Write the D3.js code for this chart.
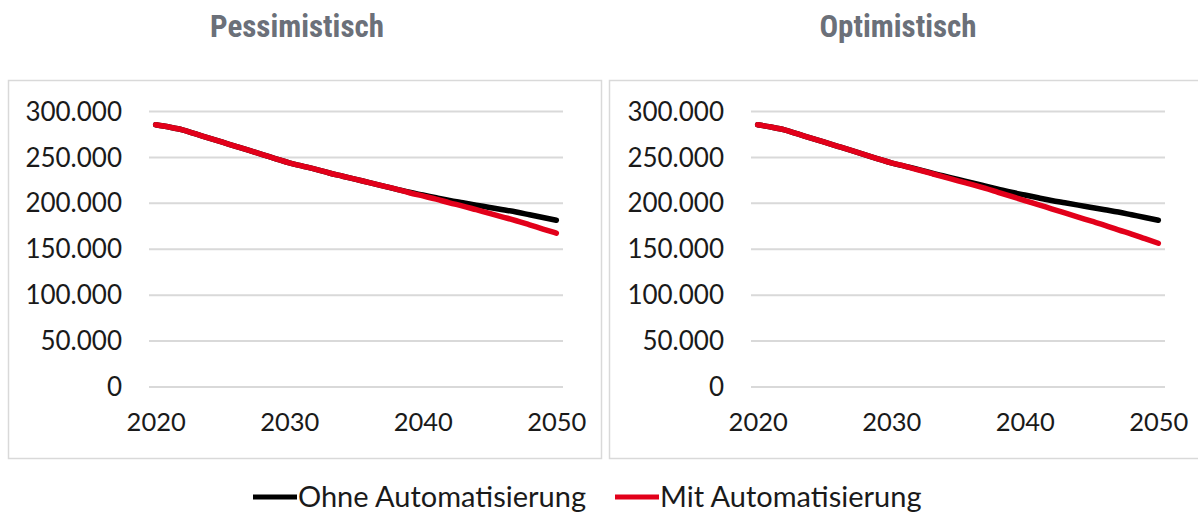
<!DOCTYPE html>
<html>
<head>
<meta charset="utf-8">
<script src="https://cdn.jsdelivr.net/npm/d3@7"></script>
<style>
  html, body { margin: 0; padding: 0; background: #ffffff; }
  svg { display: block; }
  .title { font-family: "Liberation Sans Narrow", "Roboto Condensed", Roboto, sans-serif; font-weight: 700; fill: #6b7079; }
  .tick text, .legend text { font-family: Lato, "Open Sans", sans-serif; fill: #1a1a1a; }
</style>
</head>
<body>
<svg id="chart" width="1198" height="515"></svg>
<script>
// Years on the category axis (one point per year)
const years = d3.range(2020, 2051);
const yearTicks = [2020, 2030, 2040, 2050];
const valueTicks = [0, 50000, 100000, 150000, 200000, 250000, 300000];

// Employment without automation (same in both scenarios)
const ohneAutomatisierung = [
  285000, 282500, 279500, 275000, 270500, 266000, 261500, 257000, 252500, 248000,
  243500, 240000, 236500, 232500, 229000, 225500, 222000, 218500, 215000, 211500,
  208500, 205500, 202500, 200000, 197500, 195000, 192500, 190000, 187000, 184000,
  181000
];

// Employment with automation, pessimistic scenario
const mitAutomatisierungPessimistisch = [
  285000, 282500, 279500, 275000, 270500, 266000, 261500, 257000, 252500, 248000,
  243500, 240000, 236500, 232500, 229000, 225500, 222000, 218500, 215000, 211000,
  207500, 204000, 200000, 196500, 192500, 188500, 184500, 180500, 176000, 171500,
  167000
];

// Employment with automation, optimistic scenario
const mitAutomatisierungOptimistisch = [
  285000, 282500, 279500, 275000, 270500, 266000, 261500, 257000, 252500, 248000,
  243500, 240000, 236000, 232000, 228000, 224000, 220000, 216000, 211500, 207000,
  202500, 198000, 193500, 189000, 184500, 180000, 175500, 170500, 166000, 161000,
  156000
];

const panelTitles = ["Pessimistisch", "Optimistisch"];
const seriesNames = ["Ohne Automatisierung", "Mit Automatisierung"];
const seriesColors = ["#000000", "#e2001a"];

const panels = [
  { title: panelTitles[0], ohne: ohneAutomatisierung, mit: mitAutomatisierungPessimistisch,
    box: [8, 80, 593, 378], plot: [149, 563], titleX: 297 },
  { title: panelTitles[1], ohne: ohneAutomatisierung, mit: mitAutomatisierungOptimistisch,
    box: [609, 80, 600, 378], plot: [751, 1165], titleX: 898 }
];

const de = d3.formatLocale({ decimal: ",", thousands: ".", grouping: [3], currency: ["", " €"] });
const fmt = de.format(",");

const svg = d3.select("#chart");
const yTop = 111, yBottom = 386.5;

panels.forEach(p => {
  // Panel frame
  svg.append("rect")
    .attr("x", p.box[0] + 0.5).attr("y", p.box[1] + 0.5)
    .attr("width", p.box[2]).attr("height", p.box[3])
    .attr("fill", "none").attr("stroke", "#d9d9d9").attr("stroke-width", 1.5);

  // Title
  svg.append("text").attr("class", "title")
    .attr("x", p.titleX).attr("y", 37)
    .attr("text-anchor", "middle")
    .style("font-size", "31px")
    .text(p.title);

  const x = d3.scalePoint().domain(years).range(p.plot).padding(0.5);
  const y = d3.scaleLinear().domain([0, 300000]).range([yBottom, yTop]);

  // Y axis with horizontal gridlines
  const yAxis = svg.append("g")
    .attr("transform", `translate(${p.plot[0]},0)`)
    .call(d3.axisLeft(y).tickValues(valueTicks).tickFormat(fmt)
      .tickSizeInner(-(p.plot[1] - p.plot[0])).tickSizeOuter(0).tickPadding(27));
  yAxis.select(".domain").remove();
  yAxis.selectAll(".tick line").attr("stroke", "#d9d9d9").attr("stroke-width", 2);
  yAxis.selectAll(".tick text").style("font-size", "26px").attr("dy", "0.35em");

  // X axis labels
  const xAxis = svg.append("g")
    .attr("transform", `translate(0,${yBottom})`)
    .call(d3.axisBottom(x).tickValues(yearTicks).tickSize(0).tickPadding(26));
  xAxis.select(".domain").remove();
  xAxis.selectAll(".tick text").style("font-size", "25.5px");

  // Series lines
  const line = d3.line()
    .x((d, i) => x(years[i]))
    .y(d => y(d))
    .curve(d3.curveMonotoneX);

  [p.ohne, p.mit].forEach((vals, k) => {
    svg.append("path")
      .datum(vals)
      .attr("d", line)
      .attr("fill", "none")
      .attr("stroke", seriesColors[k])
      .attr("stroke-width", 5.5)
      .attr("stroke-linecap", "round")
      .attr("stroke-linejoin", "round");
  });
});

// Legend
const legendItems = [
  { name: seriesNames[0], color: seriesColors[0], x: 253 },
  { name: seriesNames[1], color: seriesColors[1], x: 615 }
];
const legend = svg.append("g").attr("class", "legend");
legendItems.forEach(it => {
  legend.append("line")
    .attr("x1", it.x).attr("x2", it.x + 44)
    .attr("y1", 497).attr("y2", 497)
    .attr("stroke", it.color).attr("stroke-width", 5);
  legend.append("text")
    .attr("x", it.x + 45).attr("y", 497)
    .attr("dy", "0.35em")
    .style("font-size", "29px")
    .text(it.name);
});
</script>
</body>
</html>
